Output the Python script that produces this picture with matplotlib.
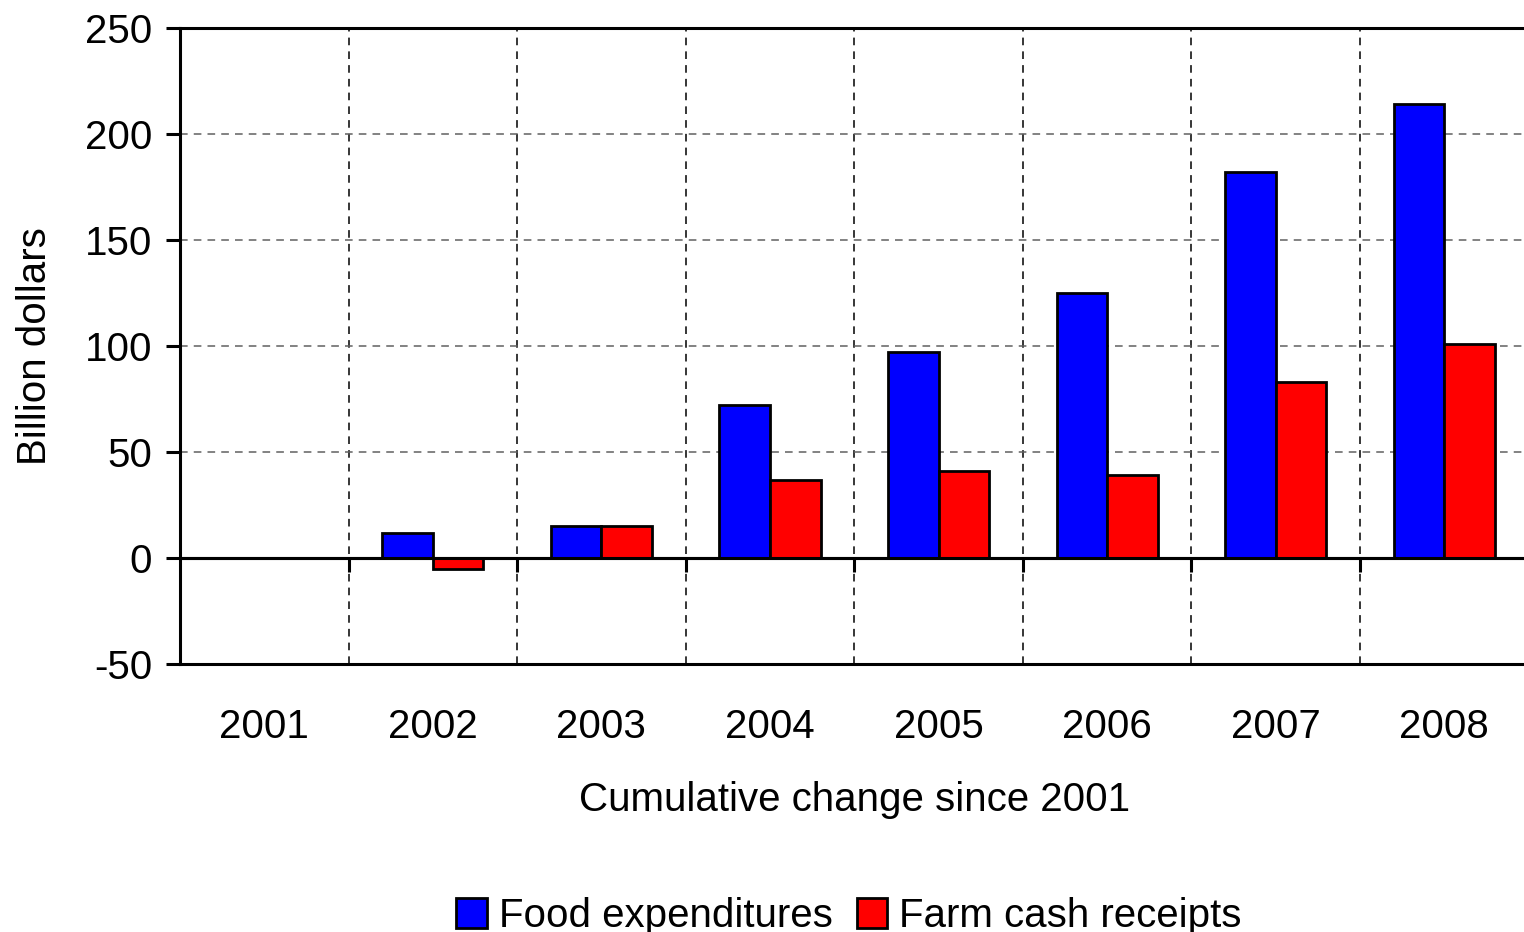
import numpy as np
import matplotlib
matplotlib.use("Agg")
import matplotlib.pyplot as plt

years = ["2001", "2002", "2003", "2004", "2005", "2006", "2007", "2008"]
food = [0, 12, 15, 72, 97, 125, 182, 214]
farm = [0, -5, 15, 37, 41, 39, 83, 101]

plt.rcParams['font.family'] = ['Liberation Sans', 'DejaVu Sans']
plt.rcParams['axes.unicode_minus'] = False

fig = plt.figure(figsize=(15.24, 9.32), dpi=100)
ax = fig.add_axes([180 / 1524, (932 - 664) / 932, 1.003 - 180 / 1524, (664 - 28) / 932])

x = np.arange(len(years))
w = 0.3
ax.bar(x - 0.15, food, w, color="#0000ff", edgecolor="black", linewidth=2, zorder=3,
       label="Food expenditures")
ax.bar(x + 0.15, farm, w, color="#ff0000", edgecolor="black", linewidth=2, zorder=3,
       label="Farm cash receipts")
ax.axhline(0, color="black", lw=2.2, zorder=4)

ax.set_xlim(-0.5, len(years) - 0.5)
ax.set_ylim(-50, 250)
ax.set_yticks(np.arange(-50, 251, 50))
ax.set_xticks(x)
ax.set_xticklabels(years)
ax.set_xticks(x[:-1] + 0.5, minor=True)

ax.tick_params(axis="x", which="both", length=0, labelsize=29, pad=32)
ax.tick_params(axis="y", direction="out", length=10, width=2.2, labelsize=29, pad=10)

ax.grid(axis="y", which="major", ls=(0, (5, 4)), color="#606060", lw=1.1, zorder=0)
ax.grid(axis="x", which="minor", ls=(0, (5, 4)), color="black", lw=1.1, zorder=0)

for s in ["left", "top", "bottom"]:
    ax.spines[s].set_linewidth(2.2)
ax.spines["right"].set_visible(False)

# zero axis with ticks at category boundaries
sec = ax.secondary_xaxis(50 / 300)
sec.set_xticks(x[:-1] + 0.5)
sec.set_xticklabels([])
sec.tick_params(direction="out", length=10, width=2.2)
sec.spines["bottom"].set_linewidth(2.2)

ax.set_ylabel("Billion dollars", fontsize=29, labelpad=22)
ax.set_xlabel("Cumulative change since 2001", fontsize=29, labelpad=25)

fig.legend(loc="lower center", bbox_to_anchor=(0.557, -0.042), ncol=2, frameon=False,
           fontsize=29, handlelength=0.75, handleheight=0.75, handletextpad=0.3,
           columnspacing=0.6)

fig.savefig("out.png", dpi=100)
